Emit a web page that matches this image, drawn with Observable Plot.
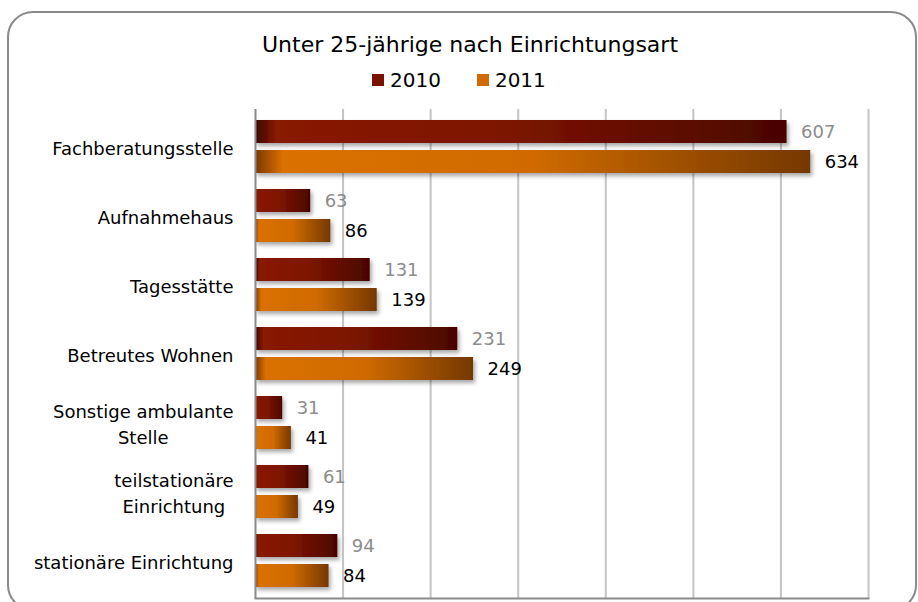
<!DOCTYPE html>
<html>
<head>
<meta charset="utf-8">
<script src="https://cdn.jsdelivr.net/npm/d3@7"></script>
<script src="https://cdn.jsdelivr.net/npm/@observablehq/plot@0.6"></script>
<style>
  body { margin: 0; background: #fff; }
  #wrap { position: relative; width: 918px; height: 602px; overflow: hidden; background: #fff; font-family: "DejaVu Sans", sans-serif; }
  .frame { position: absolute; left: 7px; top: 11px; width: 906px; height: 596px; border: 2px solid #8a8a8a; border-radius: 26px; }
  .title { position: absolute; left: 0; top: 34px; width: 940px; text-align: center; font-size: 22px; line-height: 22px; color: #000; }
  .legend { position: absolute; left: 372px; top: 70px; height: 20px; display: flex; align-items: center; font-size: 20px; line-height: 20px; color: #000; }
  .legend .item { display: flex; align-items: center; margin-right: 36px; }
  .legend .sw { width: 12px; height: 12px; margin-right: 6px; }
  #chart { position: absolute; left: 0; top: 100px; }
</style>
</head>
<body>
<div id="wrap">
  <div class="frame"></div>
  <div class="title">Unter 25-jährige nach Einrichtungsart</div>
  <div class="legend" id="legend"></div>
  <div id="chart"></div>
</div>
<script>
const categories = ["Fachberatungsstelle", "Aufnahmehaus", "Tagesstätte", "Betreutes Wohnen", "Sonstige ambulante Stelle", "teilstationäre Einrichtung", "stationäre Einrichtung"];
const categoryLabels = ["Fachberatungsstelle", "Aufnahmehaus", "Tagesstätte", "Betreutes Wohnen", "Sonstige ambulante\nStelle", "teilstationäre\nEinrichtung", "stationäre Einrichtung"];
const values2010 = [607, 63, 131, 231, 31, 61, 94];
const values2011 = [634, 86, 139, 249, 41, 49, 84];
const years = ["2010", "2011"];
const xTicks = [0, 100, 200, 300, 400, 500, 600, 700];

const legendColors = {"2010": "#7a1200", "2011": "#d06a00"};
const legend = document.getElementById("legend");
years.forEach(y => {
  const it = document.createElement("div");
  it.className = "item";
  it.innerHTML = `<div class="sw" style="background:${legendColors[y]}"></div><span>${y}</span>`;
  legend.appendChild(it);
});

const rows2010 = categories.map((c, i) => ({cat: c, value: values2010[i]}));
const rows2011 = categories.map((c, i) => ({cat: c, value: values2011[i]}));

const chart = Plot.plot({
  width: 918,
  height: 502,
  marginTop: 9,
  marginBottom: 4,
  marginLeft: 255,
  marginRight: 50,
  style: {fontFamily: "DejaVu Sans, sans-serif", background: "transparent", overflow: "visible"},
  x: {domain: [0, 700], axis: null},
  y: {domain: categories, padding: 0, axis: null},
  marks: [
    Plot.gridX(xTicks.slice(1), {stroke: "#c4c4c4", strokeWidth: 2, strokeOpacity: 1}),
    Plot.barX(rows2010, {x: "value", y: "cat", fill: "url(#g2010)", insetTop: 8, insetBottom: 38}),
    Plot.barX(rows2011, {x: "value", y: "cat", fill: "url(#g2011)", insetTop: 38, insetBottom: 8}),
    Plot.ruleX([0], {stroke: "#8a8a8a", strokeWidth: 2}),
    Plot.frame({anchor: "bottom", stroke: "#8a8a8a", strokeWidth: 2}),
    Plot.text(rows2010, {x: "value", y: "cat", text: d => String(d.value), dx: 14, dy: -15, textAnchor: "start", fill: "#8c8c8c", fontSize: 18}),
    Plot.text(rows2011, {x: "value", y: "cat", text: d => String(d.value), dx: 14, dy: 15, textAnchor: "start", fill: "#000", fontSize: 18}),
    Plot.text(categories, {y: d => d, text: (d, i) => categoryLabels[i], frameAnchor: "left", textAnchor: "end", dx: -22, fontSize: 18, lineHeight: 1.45, fill: "#000"})
  ]
});

const ns = "http://www.w3.org/2000/svg";
const defs = document.createElementNS(ns, "defs");
function grad(id, stops) {
  const g = document.createElementNS(ns, "linearGradient");
  g.setAttribute("id", id);
  g.setAttribute("x1", "0"); g.setAttribute("x2", "1"); g.setAttribute("y1", "0"); g.setAttribute("y2", "0");
  stops.forEach(([o, c]) => {
    const s = document.createElementNS(ns, "stop");
    s.setAttribute("offset", o); s.setAttribute("stop-color", c);
    g.appendChild(s);
  });
  defs.appendChild(g);
}
grad("g2010", [[0, "#3a0400"], [0.04, "#881a00"], [0.45, "#7e1500"], [1, "#4a0500"]]);
grad("g2011", [[0, "#7a3800"], [0.05, "#da7000"], [0.5, "#d06b00"], [1, "#753800"]]);
const f = document.createElementNS(ns, "filter");
f.setAttribute("id", "shadow");
f.setAttribute("x", "-10%"); f.setAttribute("y", "-30%"); f.setAttribute("width", "130%"); f.setAttribute("height", "170%");
const ds = document.createElementNS(ns, "feDropShadow");
ds.setAttribute("dx", "2"); ds.setAttribute("dy", "3"); ds.setAttribute("stdDeviation", "2");
ds.setAttribute("flood-color", "#000"); ds.setAttribute("flood-opacity", "0.35");
f.appendChild(ds);
defs.appendChild(f);
chart.insertBefore(defs, chart.firstChild);
chart.querySelectorAll('g[aria-label="bar"] rect').forEach(r => r.setAttribute("filter", "url(#shadow)"));

document.getElementById("chart").appendChild(chart);

// center multi-line category labels on their longest line
const textGroups = chart.querySelectorAll('g[aria-label="text"]');
const labelGroup = textGroups[textGroups.length - 1];
labelGroup.querySelectorAll("text").forEach(t => {
  const spans = t.querySelectorAll("tspan");
  if (spans.length > 1) {
    const widths = Array.from(spans, s => s.getComputedTextLength());
    const W = Math.max(...widths);
    spans.forEach((s, i) => {
      const x0 = parseFloat(s.getAttribute("x") || "0");
      s.setAttribute("x", x0 - (W - widths[i]) / 2);
    });
  }
});
</script>
</body>
</html>
